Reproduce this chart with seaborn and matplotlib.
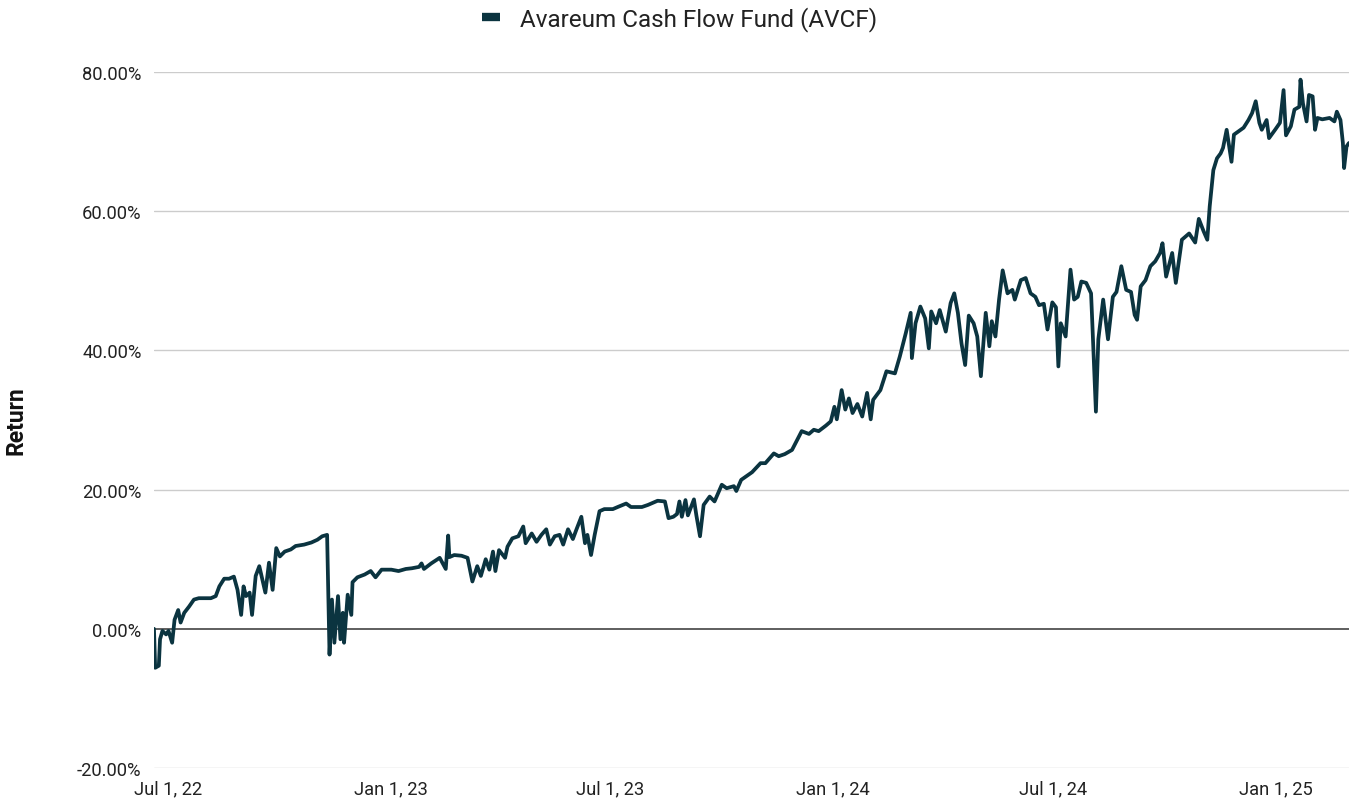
"""Avareum Cash Flow Fund cumulative return chart."""

import matplotlib

matplotlib.use("Agg")

import matplotlib.pyplot as plt
import pandas as pd
import seaborn as sns
from matplotlib.lines import Line2D
from matplotlib.ticker import PercentFormatter

SERIES_NAME = "Avareum Cash Flow Fund (AVCF)"
LINE_COLOR = "#0b3440"

# readings, cumulative return in percent
dates_2022 = [
    "2022-06-19", "2022-06-20", "2022-06-23", "2022-06-24", "2022-06-26", "2022-06-29",
    "2022-07-01", "2022-07-04", "2022-07-06", "2022-07-09", "2022-07-11", "2022-07-14",
    "2022-07-18", "2022-07-22", "2022-07-26", "2022-07-30", "2022-08-05", "2022-08-09",
    "2022-08-12", "2022-08-16", "2022-08-20", "2022-08-24", "2022-08-27", "2022-08-30",
    "2022-09-01", "2022-09-03", "2022-09-06", "2022-09-08", "2022-09-11", "2022-09-14",
    "2022-09-17", "2022-09-19", "2022-09-22", "2022-09-25", "2022-09-28", "2022-10-01",
    "2022-10-05", "2022-10-10", "2022-10-14", "2022-10-21", "2022-10-27", "2022-11-01",
    "2022-11-05", "2022-11-09", "2022-11-11", "2022-11-13", "2022-11-15", "2022-11-18",
    "2022-11-20", "2022-11-22", "2022-11-23", "2022-11-26", "2022-11-29", "2022-11-30",
    "2022-12-04", "2022-12-10", "2022-12-15", "2022-12-19", "2022-12-24",
]
returns_2022 = [
    0.0, -5.6, -5.3, -1.5, -0.3, -0.8,
    -0.3, -2.0, 1.3, 2.7, 0.9, 2.3,
    3.2, 4.2, 4.4, 4.4, 4.4, 4.7,
    6.1, 7.2, 7.2, 7.5, 5.6, 2.0,
    6.1, 4.7, 5.2, 2.0, 7.6, 9.0,
    6.7, 5.2, 9.5, 5.6, 11.6, 10.4,
    11.1, 11.4, 11.9, 12.1, 12.4, 12.8,
    13.3, 13.5, -3.7, 4.2, -2.0, 4.7,
    -1.5, 2.3, -2.0, 4.9, 2.0, 6.7,
    7.4, 7.8, 8.3, 7.4, 8.5,
]

dates_2023 = [
    "2023-01-01", "2023-01-07", "2023-01-13", "2023-01-18", "2023-01-24", "2023-01-26",
    "2023-01-28", "2023-02-03", "2023-02-10", "2023-02-15", "2023-02-17", "2023-02-18",
    "2023-02-22", "2023-02-28", "2023-03-05", "2023-03-09", "2023-03-13", "2023-03-16",
    "2023-03-20", "2023-03-23", "2023-03-26", "2023-03-28", "2023-03-31", "2023-04-05",
    "2023-04-07", "2023-04-11", "2023-04-16", "2023-04-20", "2023-04-22", "2023-04-27",
    "2023-05-01", "2023-05-05", "2023-05-09", "2023-05-12", "2023-05-16", "2023-05-20",
    "2023-05-23", "2023-05-27", "2023-05-31", "2023-06-03", "2023-06-07", "2023-06-10",
    "2023-06-12", "2023-06-15", "2023-06-18", "2023-06-22", "2023-06-26", "2023-07-03",
    "2023-07-07", "2023-07-14", "2023-07-18", "2023-07-27", "2023-08-01", "2023-08-09",
    "2023-08-15", "2023-08-18", "2023-08-22", "2023-08-25", "2023-08-27", "2023-08-29",
    "2023-09-01", "2023-09-03", "2023-09-08", "2023-09-10", "2023-09-13", "2023-09-16",
    "2023-09-21", "2023-09-25", "2023-10-01", "2023-10-05", "2023-10-11", "2023-10-13",
    "2023-10-17", "2023-10-26", "2023-11-02", "2023-11-06", "2023-11-13", "2023-11-17",
    "2023-11-22", "2023-11-28", "2023-12-06", "2023-12-12", "2023-12-16", "2023-12-20",
    "2023-12-26", "2023-12-30",
]
returns_2023 = [
    8.5, 8.3, 8.6, 8.7, 8.9, 9.4,
    8.6, 9.4, 10.2, 8.6, 13.4, 10.3,
    10.6, 10.5, 10.2, 6.8, 9.0, 7.6,
    10.0, 8.5, 11.1, 8.3, 11.3, 10.2,
    11.8, 13.0, 13.3, 14.7, 12.3, 13.7,
    12.5, 13.5, 14.3, 12.1, 13.3, 13.5,
    12.1, 14.3, 12.9, 14.3, 16.1, 12.3,
    13.5, 10.6, 13.5, 16.9, 17.2, 17.2,
    17.5, 18.0, 17.5, 17.5, 17.8, 18.4,
    18.3, 15.9, 16.1, 16.5, 18.3, 16.1,
    18.5, 16.3, 18.6, 16.3, 13.3, 17.8,
    19.0, 18.3, 20.7, 20.2, 20.5, 19.8,
    21.4, 22.5, 23.8, 23.8, 25.2, 24.8,
    25.1, 25.7, 28.4, 28.0, 28.6, 28.4,
    29.2, 29.8,
]

dates_2024 = [
    "2024-01-02", "2024-01-04", "2024-01-08", "2024-01-11", "2024-01-14", "2024-01-17",
    "2024-01-21", "2024-01-25", "2024-01-29", "2024-02-01", "2024-02-03", "2024-02-09",
    "2024-02-14", "2024-02-21", "2024-02-25", "2024-03-01", "2024-03-05", "2024-03-06",
    "2024-03-09", "2024-03-13", "2024-03-17", "2024-03-20", "2024-03-22", "2024-03-26",
    "2024-03-29", "2024-04-03", "2024-04-07", "2024-04-10", "2024-04-13", "2024-04-16",
    "2024-04-19", "2024-04-22", "2024-04-26", "2024-04-29", "2024-05-02", "2024-05-06",
    "2024-05-09", "2024-05-11", "2024-05-14", "2024-05-17", "2024-05-20", "2024-05-24",
    "2024-05-28", "2024-05-30", "2024-06-04", "2024-06-08", "2024-06-12", "2024-06-16",
    "2024-06-19", "2024-06-23", "2024-06-26", "2024-06-30", "2024-07-03", "2024-07-05",
    "2024-07-07", "2024-07-11", "2024-07-15", "2024-07-18", "2024-07-21", "2024-07-24",
    "2024-07-28", "2024-08-01", "2024-08-02", "2024-08-05", "2024-08-07", "2024-08-11",
    "2024-08-15", "2024-08-19", "2024-08-22", "2024-08-26", "2024-08-30", "2024-09-03",
    "2024-09-06", "2024-09-08", "2024-09-11", "2024-09-15", "2024-09-19", "2024-09-23",
    "2024-09-27", "2024-09-29", "2024-10-02", "2024-10-07", "2024-10-10", "2024-10-15",
    "2024-10-21", "2024-10-26", "2024-10-29", "2024-11-02", "2024-11-05", "2024-11-07",
    "2024-11-10", "2024-11-13", "2024-11-16", "2024-11-18", "2024-11-21", "2024-11-25",
    "2024-11-27", "2024-12-01", "2024-12-05", "2024-12-09", "2024-12-12", "2024-12-15",
    "2024-12-18", "2024-12-20", "2024-12-24", "2024-12-26", "2024-12-31",
]
returns_2024 = [
    31.9, 30.1, 34.3, 31.5, 33.1, 31.0,
    32.3, 30.5, 33.9, 30.1, 32.9, 34.3,
    37.0, 36.7, 39.1, 42.5, 45.4, 38.9,
    43.9, 46.3, 44.6, 40.3, 45.6, 43.9,
    45.8, 42.7, 46.8, 48.2, 45.4, 41.0,
    37.9, 45.0, 43.9, 42.0, 36.3, 45.4,
    40.6, 44.2, 42.0, 47.3, 51.5, 48.2,
    48.7, 47.3, 50.1, 50.4, 48.2, 47.7,
    46.5, 46.7, 43.0, 46.9, 46.2, 37.7,
    43.9, 42.0, 51.6, 47.3, 47.7, 49.9,
    49.7, 48.2, 44.1, 31.2, 41.6, 47.3,
    41.6, 47.7, 48.4, 52.1, 48.7, 48.4,
    45.1, 44.4, 49.2, 50.1, 52.1, 52.8,
    54.0, 55.4, 50.6, 54.0, 49.7, 55.9,
    56.8, 55.5, 58.9, 57.1, 55.9, 60.7,
    65.9, 67.6, 68.3, 69.1, 71.7, 67.1,
    71.0, 71.5, 72.0, 73.1, 74.1, 75.8,
    72.7, 71.7, 73.1, 70.5, 71.7,
]

dates_2025 = [
    "2025-01-04", "2025-01-07", "2025-01-09", "2025-01-13", "2025-01-16", "2025-01-20",
    "2025-01-21", "2025-01-23", "2025-01-26", "2025-01-28", "2025-01-31", "2025-02-02",
    "2025-02-04", "2025-02-08", "2025-02-14", "2025-02-18", "2025-02-20", "2025-02-23",
    "2025-02-25", "2025-02-26", "2025-02-28", "2025-03-02",
]
returns_2025 = [
    72.7, 77.4, 70.9, 72.2, 74.6, 75.0,
    78.9, 75.5, 72.9, 76.7, 76.5, 71.7,
    73.4, 73.2, 73.4, 72.9, 74.3, 73.1,
    69.8, 66.2, 69.3, 69.8,
]

x_ticks = ["2022-07-01", "2023-01-01", "2023-07-01", "2024-01-01", "2024-07-01", "2025-01-01"]
x_tick_labels = ["Jul 1, 22", "Jan 1, 23", "Jul 1, 23", "Jan 1, 24", "Jul 1, 24", "Jan 1, 25"]
y_ticks = [-20, 0, 20, 40, 60, 80]


def main() -> None:
    sns.set_theme(style="white")
    plt.rcParams["font.family"] = ["Roboto", "DejaVu Sans"]
    plt.rcParams["axes.unicode_minus"] = False

    df = pd.DataFrame(
        {
            "Date": pd.to_datetime(dates_2022 + dates_2023 + dates_2024 + dates_2025),
            "Return": returns_2022 + returns_2023 + returns_2024 + returns_2025,
        }
    )

    fig = plt.figure(figsize=(13.59, 8.04), dpi=100)
    ax = fig.add_axes([0.1133, 0.0435, 0.8793, 0.8657])

    for y in y_ticks:
        ax.axhline(y, color="#333333" if y == 0 else "#cccccc", lw=1.1 if y == 0 else 1.0, zorder=1)

    sns.lineplot(data=df, x="Date", y="Return", color=LINE_COLOR, linewidth=2.7, ax=ax, zorder=3)

    ax.set_xlim(df["Date"].iloc[0], df["Date"].iloc[-1])
    ax.set_ylim(-20, 80)
    ax.set_yticks(y_ticks)
    ax.yaxis.set_major_formatter(PercentFormatter(decimals=2))
    ax.set_xticks(pd.to_datetime(x_ticks))
    ax.set_xticklabels(x_tick_labels)
    ax.tick_params(axis="both", length=0, labelsize=13.2, labelcolor="#222222")
    ax.tick_params(axis="y", pad=9)
    ax.tick_params(axis="x", pad=8)
    ax.set_xlabel("")
    ax.set_ylabel("Return", fontsize=16.5, fontweight="bold", color="#111111")
    ax.yaxis.set_label_coords(-0.106, 0.5)
    for spine in ax.spines.values():
        spine.set_visible(False)

    handle = Line2D([0], [0], color=LINE_COLOR, linewidth=6, solid_capstyle="butt")
    fig.legend(
        [handle],
        [SERIES_NAME],
        loc="center",
        bbox_to_anchor=(0.5, 0.976),
        frameon=False,
        fontsize=17.5,
        handlelength=0.75,
        handletextpad=0.8,
        labelcolor="#222222",
    )

    fig.savefig("out.png", dpi=100)
    plt.close(fig)


if __name__ == "__main__":
    main()
